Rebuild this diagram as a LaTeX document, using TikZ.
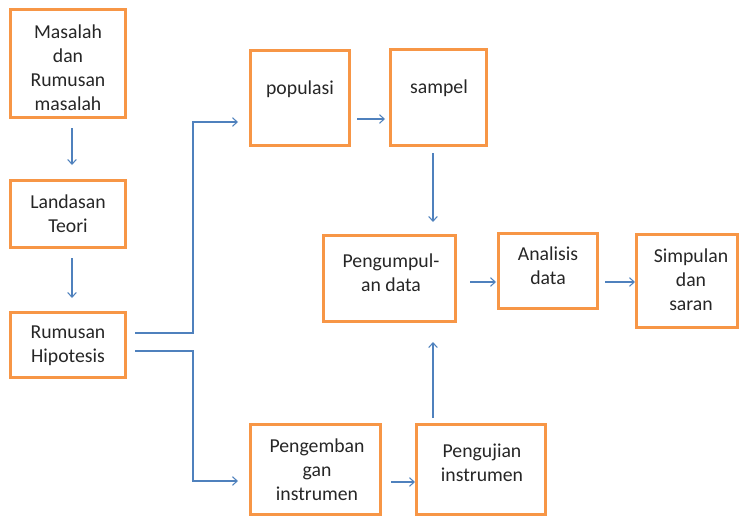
\documentclass[tikz,border=0pt]{standalone}
\usepackage{fontspec}
\setmainfont{Carlito}
\usetikzlibrary{arrows.meta}
\definecolor{boxorange}{HTML}{F79646}
\definecolor{linkblue}{HTML}{4F81BD}
\tikzset{
  box/.style 2 args={draw=boxorange, line width=2.25pt, rectangle, inner sep=0pt,
    minimum width=#1*0.75pt, minimum height=#2*0.75pt},
  txt/.style={align=center, inner sep=0pt, font=\fontsize{14.8}{18}\selectfont, text=black!85},
  arr/.style={draw=linkblue, line width=0.8pt, -{Straight Barb[length=3.6pt,width=6.5pt]}},
  lnk/.style={draw=linkblue, line width=0.8pt}
}
\begin{document}
\begin{tikzpicture}[x=0.75pt,y=-0.75pt]
\useasboundingbox (0,0) rectangle (741,518);
% boxes
\node[box={115}{108}] (A) at (68,63.5) {};
\node[box={115}{67}]  (B) at (68,214) {};
\node[box={115}{65}]  (C) at (68,345) {};
\node[box={99}{95}]   (D) at (300,98) {};
\node[box={96}{96}]   (E) at (438.5,97.5) {};
\node[box={132}{86}]  (F) at (389.5,278.5) {};
\node[box={99}{75}]   (G) at (548,271) {};
\node[box={101}{93}]  (H) at (687,281) {};
\node[box={130}{90}]  (I) at (315.5,469.5) {};
\node[box={129}{90}]  (J) at (481,469.5) {};
% texts
\node[txt] (At) at (68,67.5) {Masalah\\dan\\Rumusan\\masalah};
\node[txt] (Bt) at (68,213.5) {Landasan\\Teori};
\node[txt] (Ct) at (68,345.5) {Rumusan\\Hipotesis};
\node[txt] (Dt) at (300,89) {populasi};
\node[txt] (Et) at (439,88) {sampel};
\node[txt] (Ft) at (391,272.5) {Pengumpul-\\an data};
\node[txt] (Gt) at (548,265.5) {Analisis\\data};
\node[txt] (Ht) at (691,280) {Simpulan\\dan\\saran};
\node[txt] (It) at (317,470) {Pengemban\\gan\\instrumen};
\node[txt] (Jt) at (482,462.5) {Pengujian\\instrumen};
% connector end points
\coordinate (ab1) at (72,128);  \coordinate (ab2) at (72,165);
\coordinate (bc1) at (72,258);  \coordinate (bc2) at (72,298);
\coordinate (cu1) at (135,333); \coordinate (cu2) at (193,333);
\coordinate (cu3) at (193,122); \coordinate (cu4) at (238,122);
\coordinate (cl1) at (135,351); \coordinate (cl2) at (193,351);
\coordinate (cl3) at (193,481); \coordinate (cl4) at (238,481);
\coordinate (de1) at (357,119); \coordinate (de2) at (385,119);
\coordinate (ef1) at (433,153); \coordinate (ef2) at (433,222);
\coordinate (fg1) at (470,282); \coordinate (fg2) at (496,282);
\coordinate (gh1) at (605,282); \coordinate (gh2) at (635,282);
\coordinate (ij1) at (391,482); \coordinate (ij2) at (415,482);
\coordinate (jf1) at (433,418); \coordinate (jf2) at (433,342);
% connectors
\draw[arr] (ab1) -- (ab2);
\draw[arr] (bc1) -- (bc2);
\draw[arr] (cu1) -- (cu2) -- (cu3) -- (cu4);
\draw[arr] (cl1) -- (cl2) -- (cl3) -- (cl4);
\draw[arr] (de1) -- (de2);
\draw[arr] (ef1) -- (ef2);
\draw[arr] (fg1) -- (fg2);
\draw[arr] (gh1) -- (gh2);
\draw[arr] (ij1) -- (ij2);
\draw[arr] (jf1) -- (jf2);
\end{tikzpicture}
\end{document}
